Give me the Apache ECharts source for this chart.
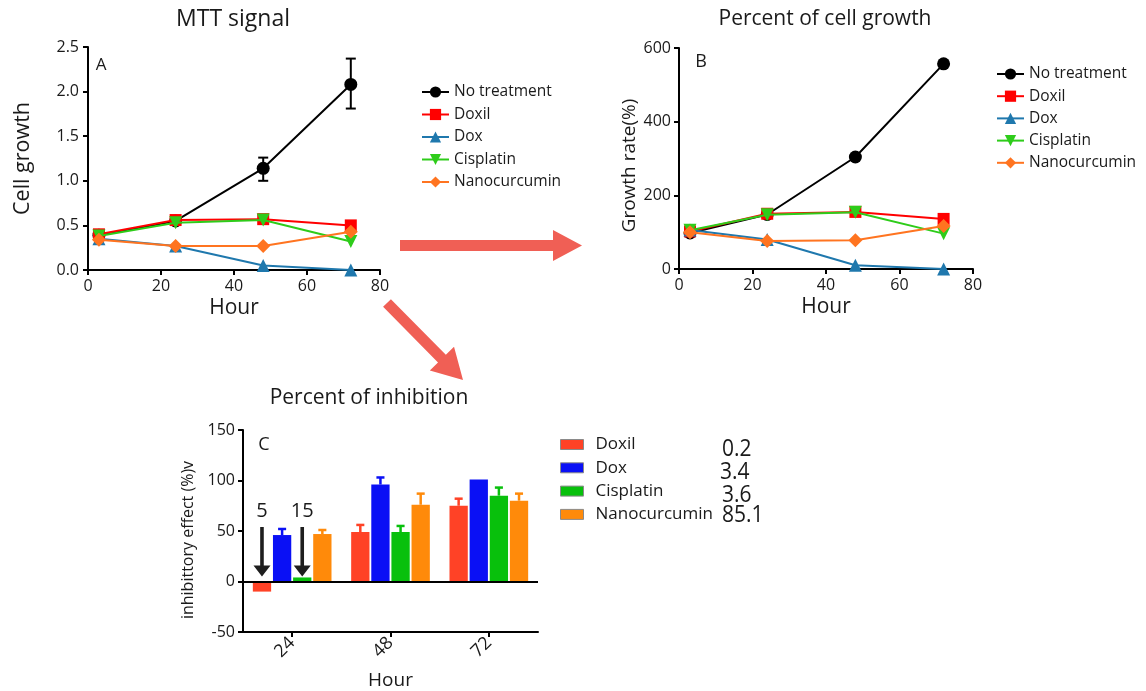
<!DOCTYPE html>
<html><head><meta charset="utf-8">
<script src="https://cdn.jsdelivr.net/npm/echarts@6/dist/echarts.min.js"></script>
<style>html,body{margin:0;padding:0;background:#fff}#c{width:1146px;height:691px}</style>
</head><body><div id="c"></div>
<script>
// ---------- data ----------
const hours = [3, 24, 48, 72];
const seriesNames = ['No treatment', 'Doxil', 'Dox', 'Cisplatin', 'Nanocurcumin'];

// Panel A: MTT signal
const mttNoTreatment = [0.39, 0.55, 1.14, 2.08];
const mttNoTreatmentLow = [null, null, 1.00, 1.81];
const mttNoTreatmentHigh = [null, null, 1.26, 2.37];
const mttDoxil = [0.40, 0.56, 0.57, 0.50];
const mttDox = [0.35, 0.27, 0.05, 0.00];
const mttCisplatin = [0.38, 0.53, 0.56, 0.32];
const mttNanocurcumin = [0.34, 0.27, 0.27, 0.43];

// Panel B: Percent of cell growth
const growthNoTreatment = [98, 148, 304, 557];
const growthDoxil = [102, 150, 155, 136];
const growthDox = [106, 80, 10, 0];
const growthCisplatin = [105, 147, 154, 96];
const growthNanocurcumin = [100, 76, 78, 117];

// Panel C: Percent of inhibition
const inhibHours = ['24', '48', '72'];
const inhibNames = ['Doxil', 'Dox', 'Cisplatin', 'Nanocurcumin'];
const inhibDoxil = [-10, 49, 75];
const inhibDoxilErr = [null, 56, 82];
const inhibDox = [46, 96, 101];
const inhibDoxErr = [52, 103, null];
const inhibCisplatin = [4, 49, 85];
const inhibCisplatinErr = [null, 55, 93];
const inhibNanocurcumin = [47, 76, 80];
const inhibNanocurcuminErr = [51, 87, 87];
const ic50Labels = ['0.2', '3.4', '3.6', '85.1'];
const arrowLabels = ['5', '15'];

// ---------- styles ----------
const FONT = '"Open Sans", "Noto Sans", sans-serif';
const TXT = '#1a1a1a';
const lineColors = ['#000000', '#ff0000', '#1f78ad', '#2ecc1a', '#ff7420'];
const lineSymbols = ['circle', 'rect', 'triangle', 'triangle', 'diamond'];
const lineSymbolRot = [0, 0, 0, 180, 0];
const lineSymbolSize = [13, 12, 13, 13, 14];
const barColors = ['#ff4226', '#0a10f5', '#08c00c', '#ff8a0a'];

const chart = echarts.init(document.getElementById('c'), null, {renderer: 'canvas'});

function valueAxis(gi, opts) {
  return Object.assign({
    gridIndex: gi, type: 'value',
    axisLine: {show: true, onZero: false, lineStyle: {color: '#000', width: 2}},
    axisTick: {show: true, length: 5, lineStyle: {color: '#000', width: 2}},
    axisLabel: {color: TXT, fontSize: 16, fontFamily: FONT, margin: 8},
    splitLine: {show: false},
    nameLocation: 'middle',
    nameTextStyle: {color: TXT, fontFamily: FONT}
  }, opts);
}

function lineSeries(name, data, idx, axisIdx) {
  return {
    name: name, type: 'line', xAxisIndex: axisIdx, yAxisIndex: axisIdx,
    data: hours.map((h, i) => [h, data[i]]),
    symbol: lineSymbols[idx], symbolRotate: lineSymbolRot[idx], symbolSize: lineSymbolSize[idx],
    showAllSymbol: true,
    lineStyle: {color: lineColors[idx], width: 2},
    itemStyle: {color: lineColors[idx]},
    z: 3 + idx
  };
}

const mttSets = [mttNoTreatment, mttDoxil, mttDox, mttCisplatin, mttNanocurcumin];
const growthSets = [growthNoTreatment, growthDoxil, growthDox, growthCisplatin, growthNanocurcumin];
const inhibSets = [inhibDoxil, inhibDox, inhibCisplatin, inhibNanocurcumin];
const inhibErrSets = [inhibDoxilErr, inhibDoxErr, inhibCisplatinErr, inhibNanocurcuminErr];

const series = [];
seriesNames.forEach((n, i) => series.push(lineSeries(n, mttSets[i], i, 0)));
seriesNames.forEach((n, i) => series.push(lineSeries(n, growthSets[i], i, 1)));

// error bars for panel A
series.push({
  type: 'custom', xAxisIndex: 0, yAxisIndex: 0, z: 10,
  data: hours.map((h, i) => [h, mttNoTreatmentLow[i], mttNoTreatmentHigh[i]]).filter(d => d[1] != null),
  renderItem: function (params, api) {
    const x = api.value(0);
    const lo = api.coord([x, api.value(1)]);
    const hi = api.coord([x, api.value(2)]);
    const w = 5;
    const st = {stroke: '#000', lineWidth: 2};
    return {type: 'group', children: [
      {type: 'line', shape: {x1: lo[0], y1: lo[1], x2: hi[0], y2: hi[1]}, style: st},
      {type: 'line', shape: {x1: hi[0] - w, y1: hi[1], x2: hi[0] + w, y2: hi[1]}, style: st},
      {type: 'line', shape: {x1: lo[0] - w, y1: lo[1], x2: lo[0] + w, y2: lo[1]}, style: st}
    ]};
  }
});

// bars for panel C
const CAT_GAP = 0.2, BAR_GAP = 0.1;
inhibNames.forEach((n, s) => {
  const ser = {
    name: 'C: ' + n, type: 'bar', xAxisIndex: 2, yAxisIndex: 2,
    data: inhibSets[s],
    barCategoryGap: (CAT_GAP * 100) + '%', barGap: (BAR_GAP * 100) + '%',
    itemStyle: {color: barColors[s]},
    z: 3
  };
  if (s === 0) {
    ser.markLine = {
      silent: true, symbol: 'none', label: {show: false},
      lineStyle: {color: '#000', width: 2, type: 'solid'},
      data: [{yAxis: 0}], z: 5
    };
  }
  series.push(ser);
});
// error bars for panel C
const cErr = [];
inhibNames.forEach((n, s) => inhibErrSets[s].forEach((e, c) => { if (e != null) cErr.push([c, inhibSets[s][c], e, s]); }));
series.push({
  type: 'custom', xAxisIndex: 2, yAxisIndex: 2, z: 6,
  data: cErr,
  renderItem: function (params, api) {
    const c = api.value(0), s = api.value(3);
    const base = api.coord([c, api.value(1)]);
    const top = api.coord([c, api.value(2)]);
    const bw = api.size([1, 0])[0];
    const group = bw * (1 - CAT_GAP);
    const w = group / (4 + 3 * BAR_GAP);
    const x = base[0] - group / 2 + s * w * (1 + BAR_GAP) + w / 2;
    const st = {stroke: barColors[s], lineWidth: 2.5};
    const cw = w * 0.22;
    return {type: 'group', children: [
      {type: 'line', shape: {x1: x, y1: base[1], x2: x, y2: top[1]}, style: st},
      {type: 'line', shape: {x1: x - cw, y1: top[1], x2: x + cw, y2: top[1]}, style: st}
    ]};
  }
});

const option = {
  animation: false,
  backgroundColor: '#fff',
  textStyle: {fontFamily: FONT},
  grid: [
    {left: 88, top: 47, width: 292, height: 223},
    {left: 679, top: 48, width: 294, height: 221},
    {left: 243, top: 430, width: 295, height: 202}
  ],
  xAxis: [
    valueAxis(0, {min: 0, max: 80, interval: 20, name: 'Hour', nameGap: 28, nameTextStyle: {fontSize: 21, color: TXT, fontFamily: FONT}}),
    valueAxis(1, {min: 0, max: 80, interval: 20, name: 'Hour', nameGap: 28, nameTextStyle: {fontSize: 21, color: TXT, fontFamily: FONT}}),
    {
      gridIndex: 2, type: 'category', data: inhibHours,
      axisLine: {show: true, onZero: false, lineStyle: {color: '#000', width: 2}},
      axisTick: {show: true, alignWithLabel: true, length: 5, lineStyle: {color: '#000', width: 2}},
      axisLabel: {color: TXT, fontSize: 18, fontFamily: FONT, rotate: 45, margin: 8},
      splitLine: {show: false},
      name: 'Hour', nameLocation: 'middle', nameGap: 39,
      nameTextStyle: {fontSize: 19, color: TXT, fontFamily: FONT}
    }
  ],
  yAxis: [
    valueAxis(0, {min: 0, max: 2.5, interval: 0.5, name: 'Cell growth', nameGap: 54,
      axisLabel: {color: TXT, fontSize: 16, fontFamily: FONT, margin: 9, formatter: v => v.toFixed(1)},
      nameTextStyle: {fontSize: 21.5, color: TXT, fontFamily: FONT}}),
    valueAxis(1, {min: 0, max: 600, interval: 200, name: 'Growth rate(%)', nameGap: 40,
      nameTextStyle: {fontSize: 19, color: TXT, fontFamily: FONT, padding: [0, 14, 0, 0]}}),
    valueAxis(2, {min: -50, max: 150, interval: 50,
      axisLabel: {color: TXT, fontSize: 16, fontFamily: FONT, margin: 8}})
  ],
  legend: [
    {orient: 'vertical', left: 416, top: 79, itemWidth: 27, itemHeight: 14, itemGap: 6.5,
      data: seriesNames, selectedMode: false,
      textStyle: {fontSize: 15.5, color: TXT, fontFamily: FONT, padding: [0, 0, 0, 0]}},
    {orient: 'vertical', left: 991, top: 61, itemWidth: 27, itemHeight: 14, itemGap: 6.2,
      data: seriesNames, selectedMode: false,
      textStyle: {fontSize: 15.5, color: TXT, fontFamily: FONT, padding: [0, 0, 0, 0]}},
    {orient: 'vertical', left: 555, top: 431, itemWidth: 23, itemHeight: 10, itemGap: 6.3,
      data: inhibNames.map(n => ({name: 'C: ' + n, icon: 'rect'})), selectedMode: false,
      formatter: name => name.replace('C: ', ''),
      itemStyle: {borderColor: '#8a8a8a', borderWidth: 1},
      textStyle: {fontSize: 17, color: TXT, fontFamily: FONT, padding: [0, 0, 0, 7]}}
  ],
  series: series
};
chart.setOption(option);

// ---------- decorations ----------
function txt(text, x, y, size, align) {
  return {type: 'text', x: x, y: y, z: 20,
    style: {text: text, fill: TXT, font: size + 'px ' + FONT, align: align || 'center', verticalAlign: 'middle'}};
}
function arrowPoly(sx, sy, tx, ty, halfShaft, headLen, halfHead) {
  const dx = tx - sx, dy = ty - sy, L = Math.hypot(dx, dy);
  const ux = dx / L, uy = dy / L, nx = -uy, ny = ux;
  const bx = tx - ux * headLen, by = ty - uy * headLen;
  return [
    [sx + nx * halfShaft, sy + ny * halfShaft],
    [bx + nx * halfShaft, by + ny * halfShaft],
    [bx + nx * halfHead, by + ny * halfHead],
    [tx, ty],
    [bx - nx * halfHead, by - ny * halfHead],
    [bx - nx * halfShaft, by - ny * halfShaft],
    [sx - nx * halfShaft, sy - ny * halfShaft]
  ];
}

const graphics = [
  txt('MTT signal', 233, 19, 23),
  txt('Percent of cell growth', 825, 19, 21),
  txt('Percent of inhibition', 369, 398, 21),
  txt('A', 101, 65, 17),
  txt('B', 701, 62, 18),
  txt('C', 264, 445, 18),
  // y-axis title of panel C
  {type: 'text', x: 188, y: 540, rotation: Math.PI / 2, z: 20,
    style: {text: 'inhibittory effect (%)v', fill: TXT, font: '16px ' + FONT, align: 'center', verticalAlign: 'middle'}},
  {type: 'polygon', z: 1, shape: {points: arrowPoly(400, 245.5, 582, 245.5, 5.5, 29, 15.5)}, style: {fill: '#f05f55'}},
  {type: 'polygon', z: 1, shape: {points: arrowPoly(387, 303, 463, 380, 5.5, 30, 17)}, style: {fill: '#f05f55'}}
];
const icY = [449, 472, 495, 515];
const icX = [722, 720, 722, 722];
ic50Labels.forEach((t, i) => graphics.push({type: 'text', x: icX[i], y: icY[i], z: 20, scaleY: 1.12,
  style: {text: t, fill: TXT, font: '21px ' + FONT, align: 'left', verticalAlign: 'middle'}}));

// small black arrows in panel C (at 24 h, Doxil and Cisplatin)
const p0 = chart.convertToPixel({gridIndex: 2}, [0, 0]);
const p1 = chart.convertToPixel({gridIndex: 2}, [1, 0]);
const bw = p1[0] - p0[0];
const grp = bw * (1 - CAT_GAP);
const bwid = grp / (4 + 3 * BAR_GAP);
[0, 2].forEach((s, k) => {
  const x = p0[0] - grp / 2 + s * bwid * (1 + BAR_GAP) + bwid / 2;
  const yTop = chart.convertToPixel({gridIndex: 2}, [0, 54])[1];
  const yTip = chart.convertToPixel({gridIndex: 2}, [0, 5])[1];
  graphics.push({type: 'polygon', z: 20, shape: {points: arrowPoly(x, yTop, x, yTip, 1.8, 11, 8.5)}, style: {fill: '#1e1e1e'}});
  graphics.push(txt(arrowLabels[k], x, yTop - 16, 20));
});
chart.setOption({graphic: graphics});
</script>
</body></html>
